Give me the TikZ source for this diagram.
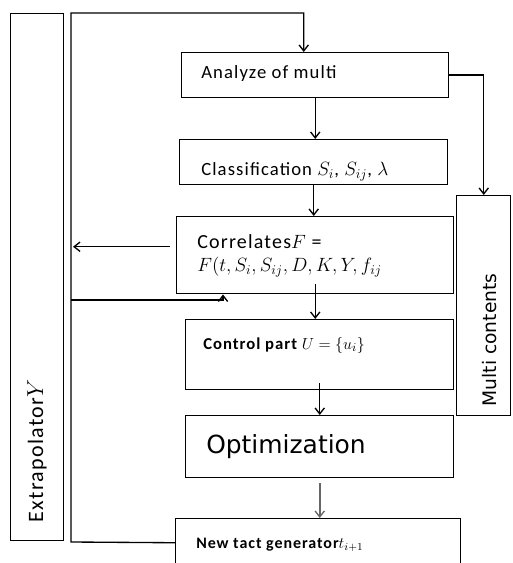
\documentclass[tikz,border=0pt]{standalone}
\usepackage{fontspec}
\setmainfont{Carlito}[LetterSpace=6]
\newfontfamily\dvs{DejaVu Sans}
\usetikzlibrary{arrows.meta,calc}
\begin{document}
\begin{tikzpicture}[x=0.75pt,y=-0.75pt,
  box/.style={draw,line width=1.1pt,rectangle,inner sep=0pt,anchor=north west},
  conn/.style={line width=1pt,-{Straight Barb[length=4.5pt,width=7pt,line width=1pt]}},
  lbl/.style={anchor=west,inner sep=0pt,font=\fontsize{14}{16}\selectfont}]
\useasboundingbox (0,0) rectangle (512,563);
\clip (0,0) rectangle (512,563);
% boxes
\node[box,minimum width=53*0.75pt,minimum height=527*0.75pt] (ex) at (10,13) {};
\node[box,minimum width=267*0.75pt,minimum height=45*0.75pt] (an) at (181,52) {};
\node[box,minimum width=268*0.75pt,minimum height=45*0.75pt] (cl) at (179,139) {};
\node[box,minimum width=277*0.75pt,minimum height=77*0.75pt] (co) at (176,216) {};
\node[box,minimum width=268*0.75pt,minimum height=70*0.75pt] (ct) at (185,319) {};
\node[box,minimum width=268*0.75pt,minimum height=62*0.75pt] (op) at (185,415) {};
\node[box,minimum width=285*0.75pt,minimum height=48*0.75pt] (nt) at (175,518) {};
\node[box,minimum width=54*0.75pt,minimum height=220*0.75pt] (mc) at (456,195) {};
% texts
\node[lbl] (tan) at (201,74) {Analyze of multi};
\node[lbl] (tcl) at (201,172) {Classification $S_i$, $S_{ij}$, $\lambda$};
\node[lbl,font=\fontsize{15}{17}\selectfont] (tco1) at (197,242) {Correlates$F$ =};
\node[lbl,font=\fontsize{14}{16}\selectfont] (tco2) at (197,267) {$F(t,S_i,S_{ij},D,K,Y,f_{ij}$};
\node[lbl,font=\fontsize{12.5}{14}\selectfont\bfseries] (tct) at (203,345) {Control part $U=\{u_i\}$};
\node[lbl,font=\fontsize{18.7}{22}\selectfont\dvs] (top) at (206,447) {Optimization};
\node[lbl,font=\fontsize{12}{14}\selectfont\bfseries] (tnt) at (196,545) {New tact generator$t_{i+1}$};
\node[inner sep=0pt,rotate=90,font=\fontsize{16.5}{18}\selectfont] (tex) at (37,451) {Extrapolator$Y$};
\node[inner sep=0pt,rotate=90,font=\fontsize{14}{16}\selectfont\dvs] (tmc) at (490,340) {Multi contents};
% loop coordinates
\coordinate (lb) at (71,542);
\coordinate (lt) at (71,13);
\coordinate (fb) at (71,300);
% connectors
\draw[conn] (nt.west) -- (lb) -- (lt) -| ($(an.north)+(-11.5,0)$);
\draw[conn] (an.east |- 0,75) -| (mc.north);
\draw[conn] (an.south) -- (an.south |- cl.north);
\draw[conn] (cl.south) -- (cl.south |- co.north);
\draw[conn] ($(co.south)+(0,-10)$) -- (co.south |- ct.north);
\draw[conn] ($(ct.south)+(0,-7)$) -- (ct.south |- op.north);
\draw[conn,draw=black!60,line width=1.3pt] ($(op.south)+(0,5)$) -- (op.south |- nt.north);
\draw[conn] ($(co.west)+(-6,-8.5)$) -- ($(lt |- co.west)+(2,-8.5)$);
\draw[conn] (fb) -| ($(co.south west)+(47,0)$);
\end{tikzpicture}
\end{document}
